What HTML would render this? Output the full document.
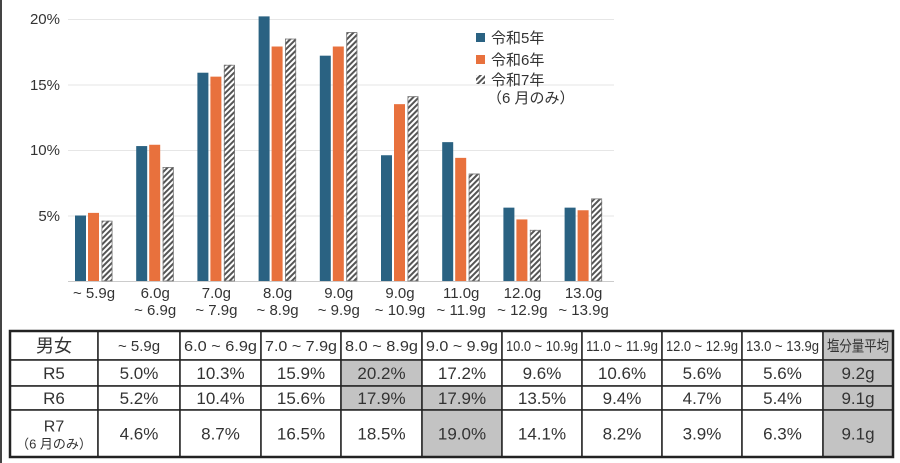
<!DOCTYPE html>
<html><head><meta charset="utf-8"><style>
html,body{margin:0;padding:0;background:#fff;}
svg{display:block;}
text{font-family:"Liberation Sans","Noto Sans CJK JP",sans-serif;fill:#333;}
</style></head><body>
<svg width="900" height="463" viewBox="0 0 900 463" xmlns="http://www.w3.org/2000/svg">
<defs>
<pattern id="h" patternUnits="userSpaceOnUse" width="4" height="4" patternTransform="rotate(45)">
<rect width="4" height="4" fill="#fff"/><rect width="2" height="4" fill="#555"/>
</pattern>
</defs>
<rect x="0" y="0" width="2" height="463" fill="#444"/>
<g stroke="#e6e6e6" stroke-width="1">
<line x1="68" y1="19.5" x2="614" y2="19.5"/>
<line x1="68" y1="85" x2="614" y2="85"/>
<line x1="68" y1="150.5" x2="614" y2="150.5"/>
<line x1="68" y1="216" x2="614" y2="216"/>
</g>
<line x1="68" y1="281.5" x2="614" y2="281.5" stroke="#ccc"/>
<g font-size="15" text-anchor="end">
<text x="60" y="24">20%</text><text x="60" y="90">15%</text><text x="60" y="155">10%</text><text x="60" y="221">5%</text>
</g>
<g id="bars"></g>
<g font-size="15" text-anchor="middle" id="labels"></g>
<rect x="476" y="33" width="9" height="9" fill="#2a6282"/>
<rect x="476" y="55" width="9" height="9" fill="#e8713d"/>
<rect x="476" y="75" width="9" height="9" fill="url(#h)"/>
<g font-size="15">
<text x="491" y="43">令和5年</text>
<text x="491" y="65">令和6年</text>
<text x="491" y="85">令和7年</text>
<text x="487" y="103">（6 月のみ）</text>
</g>
<g id="table"></g>
</svg>
<script>
var ns="http://www.w3.org/2000/svg";
function el(p,t,a,txt){var e=document.createElementNS(ns,t);for(var k in a)e.setAttribute(k,a[k]);if(txt!==undefined)e.textContent=txt;p.appendChild(e);return e;}
var r5=[5.0,10.3,15.9,20.2,17.2,9.6,10.6,5.6,5.6],r6=[5.2,10.4,15.6,17.9,17.9,13.5,9.4,4.7,5.4],r7=[4.6,8.7,16.5,18.5,19.0,14.1,8.2,3.9,6.3];
var B=document.getElementById('bars'),L=document.getElementById('labels');
var l1=["~ 5.9g","6.0g","7.0g","8.0g","9.0g","9.0g","11.0g","12.0g","13.0g"],l2=["","~ 6.9g","~ 7.9g","~ 8.9g","~ 9.9g","~ 10.9g","~ 11.9g","~ 12.9g","~ 13.9g"];
for(var i=0;i<9;i++){var x=75+61.2*i;
[[r5,"#2a6282",0],[r6,"#e8713d",13],[r7,"url(#h)",26.5]].forEach(function(s){var h=s[0][i]*13.1;el(B,'rect',{x:x+s[2],y:281-h,width:11,height:h,fill:s[1]});});
el(B,'rect',{x:x+26.5+0.4,y:281-r7[i]*13.1+0.4,width:10.2,height:r7[i]*13.1-0.4,fill:'none',stroke:'#777','stroke-width':0.8});
el(L,'text',{x:x+19,y:298},l1[i]);if(l2[i])el(L,'text',{x:x+19,y:315},l2[i]);}
var T=document.getElementById('table');
var cx=[10,98,180,261,341,422,502,582,662,742,823,893],ry=[331,360,386,410,457];
var rows=[["男女","~ 5.9g","6.0 ~ 6.9g","7.0 ~ 7.9g","8.0 ~ 8.9g","9.0 ~ 9.9g","10.0 ~ 10.9g","11.0 ~ 11.9g","12.0 ~ 12.9g","13.0 ~ 13.9g","塩分量平均"],
["R5","5.0%","10.3%","15.9%","20.2%","17.2%","9.6%","10.6%","5.6%","5.6%","9.2g"],
["R6","5.2%","10.4%","15.6%","17.9%","17.9%","13.5%","9.4%","4.7%","5.4%","9.1g"],
["R7","4.6%","8.7%","16.5%","18.5%","19.0%","14.1%","8.2%","3.9%","6.3%","9.1g"]];
var gray={"1,4":1,"2,4":1,"2,5":1,"3,5":1};
for(var r=0;r<4;r++)for(var c=0;c<11;c++){
var g=gray[r+","+c]||c==10;
el(T,'rect',{x:cx[c],y:ry[r],width:cx[c+1]-cx[c],height:ry[r+1]-ry[r],fill:g?'#c3c3c3':'#fff',stroke:'#222','stroke-width':1.5});
var mx=(cx[c]+cx[c+1])/2,my=(ry[r]+ry[r+1])/2,fs=17,t=rows[r][c];
if(r==0&&c>0){fs=15;}
if(r==0&&c==0)fs=18;
if(r==3&&c==0){el(T,'text',{x:mx,y:my-2,'font-size':16,'text-anchor':'middle'},"R7");el(T,'text',{x:mx,y:my+15,'font-size':13,'text-anchor':'middle'},"（6 月のみ）");continue;}
var e=el(T,'text',{x:mx,y:my+fs*0.36,'font-size':fs,'text-anchor':'middle'},t);
if(r==0&&c>=2&&c<=10){e.setAttribute('textLength',(cx[c+1]-cx[c]-8));e.setAttribute('lengthAdjust','spacingAndGlyphs');}
}
el(T,'rect',{x:10,y:331,width:883,height:126,fill:'none',stroke:'#222','stroke-width':2.5});
</script>
</body></html>
